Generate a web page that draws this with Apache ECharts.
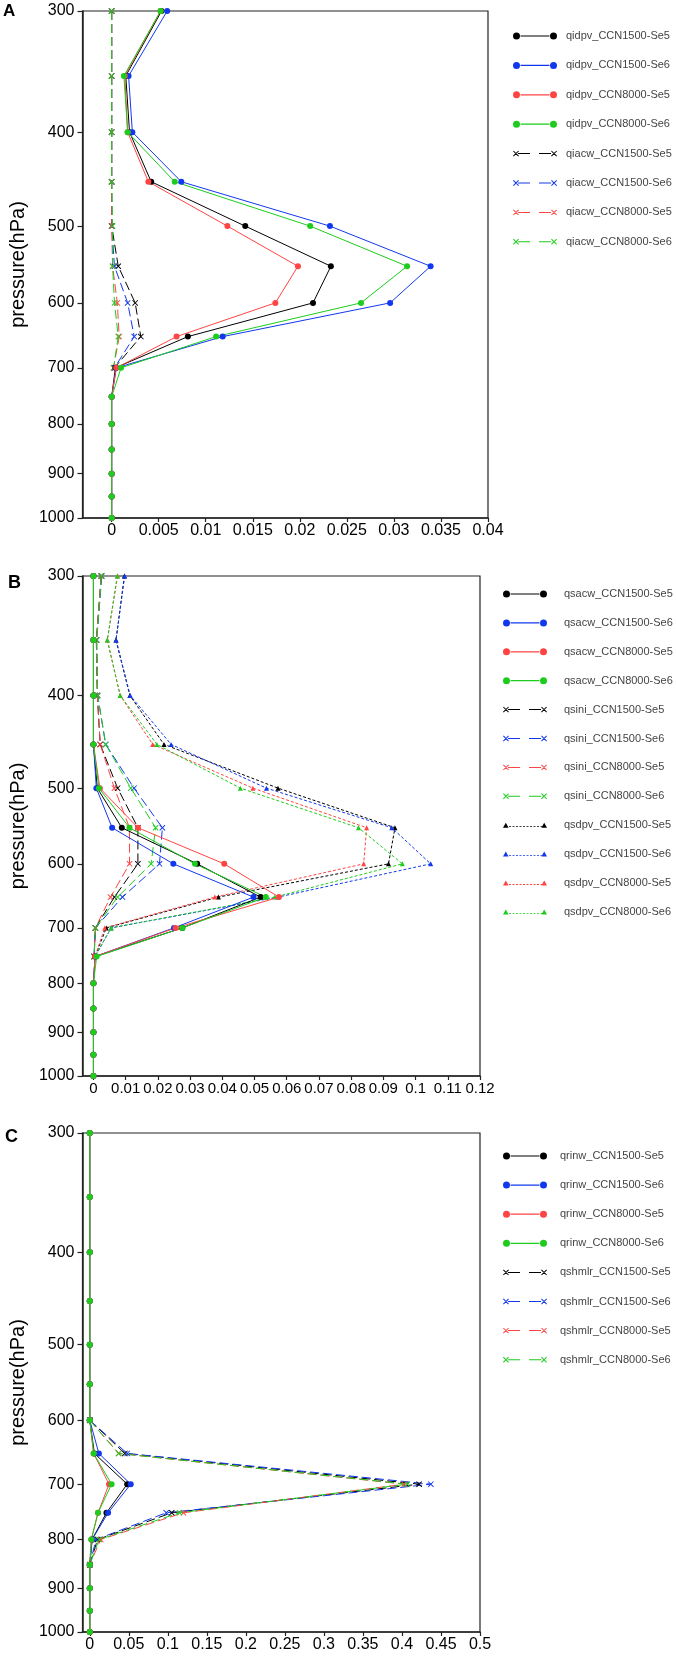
<!DOCTYPE html>
<html>
<head>
<meta charset="utf-8">
<title>Microphysics process rates profiles</title>
<script src="https://cdn.jsdelivr.net/npm/echarts@6/dist/echarts.min.js"></script>
<style>
  html, body { margin: 0; padding: 0; background: #fff; }
  #chart { width: 676px; height: 1657px; }
</style>
</head>
<body>
<div id="chart"></div>
<script>
// pressure levels (hPa) shared by every profile
const levels = [300, 350, 400, 450, 500, 550, 600, 650, 700, 750, 800, 850, 900, 950, 1000];
const yTicks = [300, 400, 500, 600, 700, 800, 900, 1000];

const xTicksA = [0, 0.005, 0.01, 0.015, 0.02, 0.025, 0.03, 0.035, 0.04];
const xTicksB = [0, 0.01, 0.02, 0.03, 0.04, 0.05, 0.06, 0.07, 0.08, 0.09, 0.1, 0.11, 0.12];
const xTicksC = [0, 0.05, 0.1, 0.15, 0.2, 0.25, 0.3, 0.35, 0.4, 0.45, 0.5];

// ---- panel A ----
const qidpv_1500_Se5 = [0.0053, 0.0015, 0.0019, 0.0042, 0.0142, 0.0233, 0.0214, 0.0081, 0.0004, 0, 0, 0, 0, 0, 0];
const qidpv_1500_Se6 = [0.0059, 0.0018, 0.0022, 0.0074, 0.0232, 0.0339, 0.0296, 0.0118, 0.0005, 0, 0, 0, 0, 0, 0];
const qidpv_8000_Se5 = [0.0052, 0.0014, 0.0017, 0.0039, 0.0123, 0.0198, 0.0174, 0.0069, 0.0005, 0, 0, 0, 0, 0, 0];
const qidpv_8000_Se6 = [0.0052, 0.0013, 0.0017, 0.0067, 0.0211, 0.0314, 0.0265, 0.0111, 0.001, 0, 0, 0, 0, 0, 0];
const qiacw_1500_Se5 = [0, 0, 0, 0, 0, 0.0007, 0.0025, 0.0031, 0.0003, null, null, null, null, null, null];
const qiacw_1500_Se6 = [0, 0, 0, 0, 0, 0.0003, 0.0017, 0.0024, 0.0003, null, null, null, null, null, null];
const qiacw_8000_Se5 = [0, 0, 0, 0, 0, 0.0001, 0.0006, 0.0008, 0.0002, null, null, null, null, null, null];
const qiacw_8000_Se6 = [0, 0, 0, 0, 0.0001, 0.0001, 0.0003, 0.0007, 0.0002, null, null, null, null, null, null];

// ---- panel B ----
const qsacw_1500_Se5 = [0, 0, 0, 0, 0.0012, 0.0088, 0.0322, 0.0519, 0.0276, 0.0005, 0, 0, 0, 0, 0];
const qsacw_1500_Se6 = [0, 0, 0, 0, 0.0009, 0.0058, 0.0248, 0.0497, 0.025, 0.0005, 0, 0, 0, 0, 0];
const qsacw_8000_Se5 = [0, 0, 0, 0, 0.002, 0.0138, 0.0406, 0.0576, 0.0255, 0.0005, 0, 0, 0, 0, 0];
const qsacw_8000_Se6 = [0, 0, 0, 0, 0.0017, 0.0112, 0.0315, 0.0535, 0.0276, 0.001, 0, 0, 0, 0, 0];
const qsini_1500_Se5 = [0.0024, 0.0009, 0.0012, 0.0021, 0.0075, 0.0138, 0.0138, 0.0065, 0.0006, 0.0002, null, null, null, null, null];
const qsini_1500_Se6 = [0.0026, 0.001, 0.0013, 0.0038, 0.0126, 0.0214, 0.0205, 0.009, 0.0006, 0.0002, null, null, null, null, null];
const qsini_8000_Se5 = [0.0024, 0.0009, 0.0012, 0.0021, 0.0065, 0.0112, 0.0112, 0.0053, 0.0006, 0.0002, null, null, null, null, null];
const qsini_8000_Se6 = [0.0025, 0.001, 0.0013, 0.0038, 0.0116, 0.0193, 0.0179, 0.0075, 0.0006, 0.0002, null, null, null, null, null];
const qsdpv_1500_Se5 = [0.0096, 0.007, 0.0113, 0.0219, 0.0573, 0.0936, 0.0916, 0.0388, 0.004, 0.0005, null, null, null, null, null];
const qsdpv_1500_Se6 = [0.0097, 0.007, 0.0114, 0.0241, 0.0537, 0.0926, 0.1047, 0.0573, 0.0055, 0.0005, null, null, null, null, null];
const qsdpv_8000_Se5 = [0.0075, 0.0043, 0.0083, 0.0184, 0.0495, 0.0848, 0.0839, 0.0377, 0.0035, 0.0005, null, null, null, null, null];
const qsdpv_8000_Se6 = [0.0074, 0.0043, 0.0083, 0.0197, 0.0456, 0.0823, 0.0959, 0.0563, 0.0055, 0.0005, null, null, null, null, null];

// ---- panel C ----
const qrinw_1500_Se5 = [0, 0, 0, 0, 0, 0, 0, 0.006, 0.048, 0.0214, 0.003, 0, 0, 0, 0];
const qrinw_1500_Se6 = [0, 0, 0, 0, 0, 0, 0, 0.0117, 0.0525, 0.0235, 0.003, 0, 0, 0, 0];
const qrinw_8000_Se5 = [0, 0, 0, 0, 0, 0, 0, 0.005, 0.0247, 0.0106, 0.002, 0, 0, 0, 0];
const qrinw_8000_Se6 = [0, 0, 0, 0, 0, 0, 0, 0.005, 0.028, 0.0106, 0.002, 0, 0, 0, 0];
const qshmlr_1500_Se5 = [null, null, null, null, null, null, 0, 0.045, 0.422, 0.105, 0.01, 0, null, null, null];
const qshmlr_1500_Se6 = [null, null, null, null, null, null, 0, 0.048, 0.437, 0.098, 0.008, 0, null, null, null];
const qshmlr_8000_Se5 = [null, null, null, null, null, null, 0, 0.037, 0.403, 0.12, 0.014, 0, null, null, null];
const qshmlr_8000_Se6 = [null, null, null, null, null, null, 0, 0.037, 0.407, 0.115, 0.012, 0, null, null, null];

const colors = ['#000000', '#1238ee', '#ff4444', '#1dcc1d'];
const runs = ['CCN1500-Se5', 'CCN1500-Se6', 'CCN8000-Se5', 'CCN8000-Se6'];

// ---- little path builders for markers / legend icons ----
function circ(cx, cy, r) {
  return `M${cx - r},${cy} a${r},${r} 0 1,1 ${2 * r},0 a${r},${r} 0 1,1 ${-2 * r},0 Z`;
}
function rect(x0, y0, x1, y1) {
  return `M${x0},${y0} L${x1},${y0} L${x1},${y1} L${x0},${y1} Z`;
}
function cross(cx, cy, h, w) {
  const o = w / 2 * 0.7071;
  const a = `M${cx - h + o},${cy - h - o} L${cx + h + o},${cy + h - o} L${cx + h - o},${cy + h + o} L${cx - h - o},${cy - h + o} Z`;
  const b = `M${cx - h - o},${cy + h - o} L${cx + h - o},${cy - h - o} L${cx + h + o},${cy - h + o} L${cx - h + o},${cy + h + o} Z`;
  return a + ' ' + b;
}
function tri(cx, cy, s) {
  return `M${cx},${cy - s} L${cx + s},${cy + s * 0.8} L${cx - s},${cy + s * 0.8} Z`;
}

const xMarker = 'path://' + cross(5, 5, 4, 1.4);
const iconDot = 'path://' + circ(3.5, 4, 3.5) + ' ' + rect(7.5, 3.4, 36.5, 4.6) + ' ' + circ(40.5, 4, 3.5);
const iconCross = 'path://' + cross(3, 4, 2.6, 1) + ' ' + rect(5, 3.5, 17, 4.5) + ' ' +
  rect(26, 3.5, 38, 4.5) + ' ' + cross(41, 4, 2.6, 1);
let dots = '';
for (let x = 6; x < 38; x += 3.5) dots += rect(x, 5.1, x + 2, 5.9) + ' ';
const iconTri = 'path://' + tri(2.8, 4.3, 2.8) + ' ' + dots + tri(41.2, 4.3, 2.8);

// ---- grids ----
const grids = [
  { left: 76, top: 11, width: 412, height: 507 },
  { left: 74, top: 576, width: 406, height: 500 },
  { left: 76, top: 1133, width: 404, height: 499 }
];
const xRanges = [[-0.0031, 0.04, xTicksA], [-0.0034, 0.12, xTicksB], [-0.0093, 0.5, xTicksC]];
const xFont = [16, 15, 16];

function toPoints(values) {
  const pts = [];
  levels.forEach((p, i) => {
    if (values[i] !== null) pts.push([values[i], Math.log10(p)]);
  });
  return pts;
}

function mkSeries(name, values, g, k, kind) {
  const s = {
    type: 'line',
    name: name,
    xAxisIndex: g,
    yAxisIndex: g,
    data: toPoints(values),
    color: colors[k],
    silent: true,
    lineStyle: { width: 1, color: colors[k] },
    itemStyle: { color: colors[k], borderWidth: 0 },
    z: 2
  };
  if (kind === 'dot') {
    s.symbol = 'circle';
    s.symbolSize = 6;
    s.z = 3;
  } else if (kind === 'cross') {
    s.symbol = xMarker;
    s.symbolSize = 6;
    s.lineStyle.type = [9, 4];
  } else {
    s.symbol = 'triangle';
    s.symbolSize = 5;
    s.lineStyle.type = [3, 2];
  }
  return s;
}

const panels = [
  { prefix: ['qidpv', 'qiacw'], kinds: ['dot', 'cross'],
    data: [[qidpv_1500_Se5, qidpv_1500_Se6, qidpv_8000_Se5, qidpv_8000_Se6],
           [qiacw_1500_Se5, qiacw_1500_Se6, qiacw_8000_Se5, qiacw_8000_Se6]] },
  { prefix: ['qsacw', 'qsini', 'qsdpv'], kinds: ['dot', 'cross', 'tri'],
    data: [[qsacw_1500_Se5, qsacw_1500_Se6, qsacw_8000_Se5, qsacw_8000_Se6],
           [qsini_1500_Se5, qsini_1500_Se6, qsini_8000_Se5, qsini_8000_Se6],
           [qsdpv_1500_Se5, qsdpv_1500_Se6, qsdpv_8000_Se5, qsdpv_8000_Se6]] },
  { prefix: ['qrinw', 'qshmlr'], kinds: ['dot', 'cross'],
    data: [[qrinw_1500_Se5, qrinw_1500_Se6, qrinw_8000_Se5, qrinw_8000_Se6],
           [qshmlr_1500_Se5, qshmlr_1500_Se6, qshmlr_8000_Se5, qshmlr_8000_Se6]] }
];

const icons = { dot: iconDot, cross: iconCross, tri: iconTri };
const legendPos = [
  { left: 513, top: 30, itemGap: 17.4, pad: 4 },
  { left: 503, top: 588, itemGap: 16.9, pad: 12 },
  { left: 503, top: 1150, itemGap: 17.1, pad: 8 }
];

const series = [];
const legends = [];
panels.forEach((pn, g) => {
  const legendData = [];
  // dashed groups first so the solid dotted profiles sit on top
  for (let j = pn.prefix.length - 1; j >= 0; j--) {
    runs.forEach((r, k) => {
      series.push(mkSeries(pn.prefix[j] + '_' + r, pn.data[j][k], g, k, pn.kinds[j]));
    });
  }
  pn.prefix.forEach((pf, j) => {
    runs.forEach(r => legendData.push({ name: pf + '_' + r, icon: icons[pn.kinds[j]] }));
  });
  const lp = legendPos[g];
  legends.push({
    orient: 'vertical',
    left: lp.left,
    top: lp.top,
    itemGap: lp.itemGap,
    itemWidth: 44,
    itemHeight: 12,
    padding: 0,
    selectedMode: false,
    symbolKeepAspect: true,
    itemStyle: { borderWidth: 0 },
    textStyle: { fontFamily: 'Liberation Sans', fontSize: 11, color: '#444', lineHeight: 12, padding: [0, 0, 0, lp.pad] },
    data: legendData
  });
});

const xAxes = grids.map((gr, g) => ({
  type: 'value',
  gridIndex: g,
  min: xRanges[g][0],
  max: xRanges[g][1],
  axisLine: { show: true, onZero: false, lineStyle: { color: '#222', width: 1.5 } },
  axisTick: { show: true, customValues: xRanges[g][2], length: 4, lineStyle: { color: '#222', width: 1.2 } },
  axisLabel: { customValues: xRanges[g][2], fontFamily: 'Liberation Sans', fontSize: xFont[g], color: '#000', margin: 5 },
  splitLine: { show: false }
}));

const yAxes = grids.map((gr, g) => ({
  type: 'value',
  gridIndex: g,
  inverse: true,
  min: Math.log10(300),
  max: Math.log10(1000),
  name: 'pressure(hPa)',
  nameLocation: 'middle',
  nameGap: 46,
  nameTextStyle: { fontFamily: 'Liberation Sans', fontSize: 20, color: '#000' },
  axisLine: { show: true, onZero: false, lineStyle: { color: '#222', width: 1.5 } },
  axisTick: { show: true, customValues: yTicks.map(v => Math.log10(v)), length: 5, lineStyle: { color: '#222', width: 1.2 } },
  axisLabel: {
    customValues: yTicks.map(v => Math.log10(v)),
    formatter: v => String(Math.round(Math.pow(10, v))),
    fontFamily: 'Liberation Sans', fontSize: 16, color: '#000', margin: 8
  },
  splitLine: { show: false }
}));

const chart = echarts.init(document.getElementById('chart'), null, { renderer: 'canvas' });
chart.setOption({
  animation: false,
  backgroundColor: '#fff',
  title: [
    { text: 'A', left: 3, top: 3, padding: 0, textStyle: { fontFamily: 'Liberation Sans', fontSize: 17, fontWeight: 'bold', color: '#000' } },
    { text: 'B', left: 8, top: 574, padding: 0, textStyle: { fontFamily: 'Liberation Sans', fontSize: 18, fontWeight: 'bold', color: '#000' } },
    { text: 'C', left: 5, top: 1128, padding: 0, textStyle: { fontFamily: 'Liberation Sans', fontSize: 18, fontWeight: 'bold', color: '#000' } }
  ],
  grid: grids.map(g => Object.assign({ show: true, borderColor: '#222', borderWidth: 1.2, backgroundColor: 'transparent' }, g)),
  legend: legends,
  xAxis: xAxes,
  yAxis: yAxes,
  series: series
});
</script>
</body>
</html>
